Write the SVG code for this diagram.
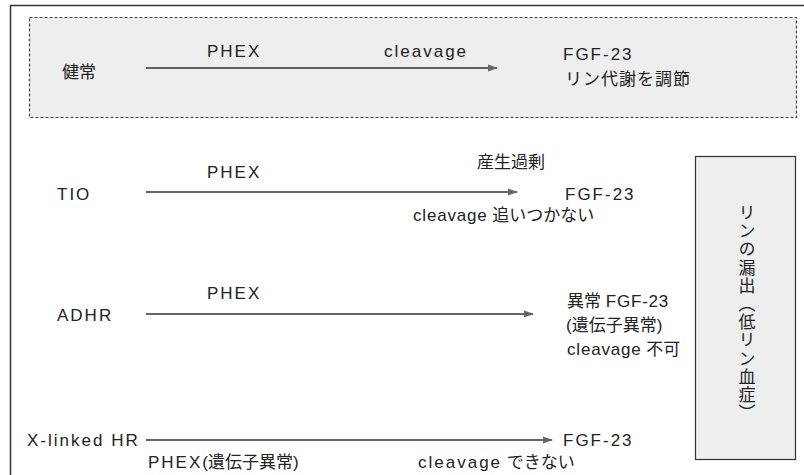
<svg xmlns="http://www.w3.org/2000/svg" width="804" height="475" viewBox="0 0 804 475">
<style>
text{font-family:"Liberation Sans","Noto Sans CJK JP",sans-serif;font-size:17px;fill:#222}
.w{letter-spacing:2px}
.m{letter-spacing:0.8px}
.j{letter-spacing:1px}
.ln{stroke:#333;stroke-width:1.6;fill:none}
.box{fill:#eeeeee;stroke:#333;stroke-width:1.2}
</style>
<defs>
<marker id="ah" viewBox="0 0 10 10" refX="9" refY="5" markerWidth="10" markerHeight="10" markerUnits="userSpaceOnUse" orient="auto">
<path d="M0,1.5 L10,5 L0,8.5 Z" fill="#666"/>
</marker>
</defs>
<rect width="804" height="475" fill="#fff"/>
<path d="M10.5,475 V5.5 H804" stroke="#333" stroke-width="1.5" fill="none"/>
<g id="normal">
<rect x="29.5" y="17.5" width="767" height="100" fill="#eeeeee" stroke="#444" stroke-width="1.2" stroke-dasharray="3,2"/>
<text x="62" y="78">健常</text>
<text class="w" x="207" y="57">PHEX</text>
<text class="w" x="384" y="57">cleavage</text>
<text class="w" x="563" y="60">FGF-23</text>
<text class="j" x="565" y="85">リン代謝を調節</text>
</g>
<g id="tio">
<text class="w" x="57" y="200">TIO</text>
<text class="w" x="207" y="178">PHEX</text>
<text x="477" y="168">産生過剰</text>
<text class="w" x="565" y="200">FGF-23</text>
<text x="413" y="221"><tspan class="m">cleavage</tspan> 追いつかない</text>
</g>
<g id="adhr">
<text class="w" x="57" y="321">ADHR</text>
<text class="w" x="207" y="299">PHEX</text>
<text x="567" y="307">異常 <tspan class="m">FGF-23</tspan></text>
<text x="566" y="331">(遺伝子異常)</text>
<text x="567" y="355"><tspan class="m">cleavage</tspan> 不可</text>
</g>
<g id="xlhr">
<text class="w" x="27" y="446">X-linked HR</text>
<text x="148" y="468"><tspan class="w">PHEX</tspan>(遺伝子異常)</text>
<text class="w" x="563" y="446">FGF-23</text>
<text x="418" y="468"><tspan class="w">cleavage</tspan> できない</text>
</g>
<g id="result">
<rect class="box" x="695.5" y="156.5" width="100" height="303"/>
<text x="745" y="204" style="writing-mode:vertical-rl;letter-spacing:1.2px">リンの漏出（低リン血症）</text>
</g>
<g id="connectors">
<line class="ln" x1="146" y1="68" x2="497" y2="68" marker-end="url(#ah)"/>
<line class="ln" x1="146" y1="192" x2="517" y2="192" marker-end="url(#ah)"/>
<line class="ln" x1="146" y1="314" x2="533" y2="314" marker-end="url(#ah)"/>
<line class="ln" x1="146" y1="440" x2="552" y2="440" marker-end="url(#ah)"/>
</g>
</svg>
